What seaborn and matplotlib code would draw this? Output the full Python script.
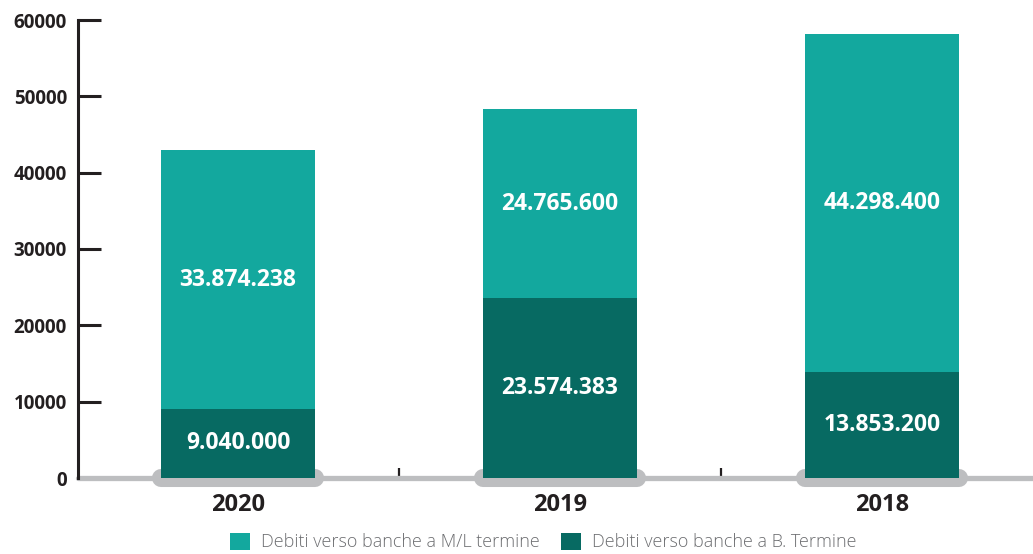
import matplotlib
matplotlib.use("Agg")
import matplotlib.pyplot as plt
import seaborn as sns
import pandas as pd

years = ["2020", "2019", "2018"]
debiti_ml = [33874238, 24765600, 44298400]
debiti_bt = [9040000, 23574383, 13853200]
yticks = [0, 10000, 20000, 30000, 40000, 50000, 60000]
legend_labels = ["Debiti verso banche a M/L termine", "Debiti verso banche a B. Termine"]

LIGHT = "#13A89E"
DARK = "#076A62"
GRAY = "#BDBEC0"
TXT = "#231F20"

sns.set_style("white")
plt.rcParams['font.family'] = ['Open Sans', 'DejaVu Sans']

df = pd.DataFrame({
    "anno": years,
    "ml": [v / 1000 for v in debiti_ml],
    "bt": [v / 1000 for v in debiti_bt],
})
df["tot"] = df["ml"] + df["bt"]

fig = plt.figure(figsize=(10.33, 5.54), dpi=100)
ax = fig.add_axes([78 / 1033, 76 / 554, 1 - 78 / 1033, (478 - 20) / 554])

W = 0.48
sns.barplot(data=df, x="anno", y="tot", order=years, color=LIGHT, width=W,
            saturation=1, linewidth=0, ax=ax, zorder=3, label=legend_labels[0])
sns.barplot(data=df, x="anno", y="bt", order=years, color=DARK, width=W,
            saturation=1, linewidth=0, ax=ax, zorder=3, label=legend_labels[1])

ax.set_xlim(-0.497, 2.469)
ax.set_ylim(0, 60000)
ax.set_xlabel("")
ax.set_ylabel("")

# gray baseline and pills
ax.axhline(0, color=GRAY, lw=3.8, zorder=1, clip_on=False)
for i in range(len(years)):
    ax.plot([i - W / 2, i + W / 2], [0, 0], color=GRAY, lw=13,
            solid_capstyle="round", zorder=1.6, clip_on=False)

# spines
for s in ["top", "right", "bottom"]:
    ax.spines[s].set_visible(False)
ax.spines["left"].set_color(TXT)
ax.spines["left"].set_linewidth(2.2)
ax.spines["left"].set_zorder(4)

ax.set_yticks(yticks)
ax.set_yticklabels([str(t) for t in yticks])
ax.tick_params(axis="y", direction="in", length=16.5, width=2.2, color=TXT,
               pad=8, labelsize=13.5, labelcolor=TXT, left=True)
for lab in ax.get_yticklabels():
    lab.set_fontweight("bold")

ax.set_xticks([0.5, 1.5], minor=True)
ax.tick_params(axis="x", which="minor", direction="in", length=7, width=1.6,
               color=TXT, bottom=True)
ax.tick_params(axis="x", which="major", length=0, pad=11, labelsize=17,
               labelcolor=TXT)
for lab in ax.get_xticklabels():
    lab.set_fontweight("bold")

# value labels
for i in range(len(years)):
    bt = df["bt"][i]
    ml = df["ml"][i]
    ax.text(i, bt / 2, f"{debiti_bt[i]:,}".replace(",", "."), ha="center",
            va="center", color="white", fontsize=16.5, fontweight="bold", zorder=5)
    ax.text(i, bt + ml / 2, f"{debiti_ml[i]:,}".replace(",", "."), ha="center",
            va="center", color="white", fontsize=16.5, fontweight="bold", zorder=5)

leg = ax.legend(loc="center", bbox_to_anchor=(543 / 1033, 1 - 542 / 554),
                bbox_transform=fig.transFigure, ncol=2, frameon=False,
                handlelength=1.1, handleheight=1.1, handletextpad=0.6,
                columnspacing=1.2, fontsize=13)
for t in leg.get_texts():
    t.set_color("#6D6E71")
    t.set_fontweight("light")

fig.savefig("out.png", dpi=100)
